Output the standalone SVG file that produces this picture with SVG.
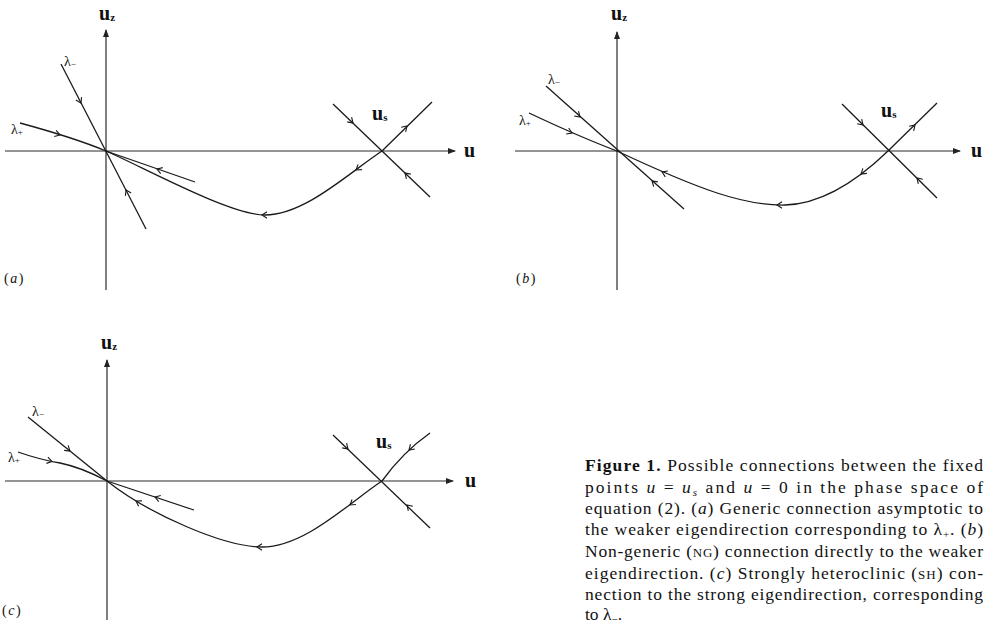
<svg xmlns="http://www.w3.org/2000/svg" xmlns:xlink="http://www.w3.org/1999/xlink" width="986" height="624" viewBox="0 0 986 624">
<style>
.ax{stroke:#2a2a2a;stroke-width:1.2;fill:none}
.tr{stroke:#1a1a1a;stroke-width:1.3;fill:none}
.lb{font-family:"Liberation Serif",serif;font-weight:bold;font-size:20px;fill:#111}
.sb{font-size:11px}
.lam{font-family:"Liberation Serif",serif;font-size:14px;fill:#111}
.ls{font-size:9px}
.pl{font-family:"Liberation Serif",serif;font-size:14px;fill:#111;letter-spacing:1.5px}
.cap{font-family:"Liberation Serif",serif;font-size:17.5px;fill:#111}
.csb{font-size:11px}
.it{font-style:italic}
.sc{font-size:13px}
</style>
<defs>
<marker id="ah" viewBox="0 0 8 6" refX="7" refY="3" markerWidth="8" markerHeight="6" orient="auto" markerUnits="userSpaceOnUse"><path d="M0,0 L8,3 L0,6 z" fill="#222"/></marker>
<path id="ch" d="M-5,-3.2 L0,0 L-5,3.2" fill="none" stroke="#1a1a1a" stroke-width="1.1"/>
</defs>

<g id="panel-a">
<g id="axes-a">
<line class="ax" x1="5" y1="151" x2="455" y2="151" marker-end="url(#ah)"/>
<line class="ax" x1="106" y1="290" x2="106" y2="30" marker-end="url(#ah)"/>
</g>
<g id="connectors-a">
<line class="tr" x1="61" y1="64" x2="146" y2="229"/>
<path class="tr" d="M20,123 Q75,138 106,151"/>
<line class="tr" x1="106" y1="151" x2="195" y2="182"/>
<path class="tr" d="M382,151 C350,172 305,215 265,215 C230,215 145,168 106,151"/>
<line class="tr" x1="333" y1="104" x2="430" y2="197"/>
<line class="tr" x1="432" y1="102" x2="382" y2="151"/>
<use xlink:href="#ch" transform="translate(81,103) rotate(62.6)"/>
<use xlink:href="#ch" transform="translate(126,190) rotate(-117.1)"/>
<use xlink:href="#ch" transform="translate(60,135) rotate(17.4)"/>
<use xlink:href="#ch" transform="translate(157,169) rotate(199.2)"/>
<use xlink:href="#ch" transform="translate(356,170) rotate(143.3)"/>
<use xlink:href="#ch" transform="translate(262,215) rotate(180)"/>
<use xlink:href="#ch" transform="translate(353,123) rotate(43.8)"/>
<use xlink:href="#ch" transform="translate(407,126) rotate(-44.4)"/>
<use xlink:href="#ch" transform="translate(405,173) rotate(-136.2)"/>
</g>
<g id="labels-a">
<text class="lb" x="99" y="20">u<tspan class="sb" dy="1">z</tspan></text>
<text class="lb" x="464" y="157">u</text>
<text class="lb" x="372" y="120">u<tspan class="sb" dy="1">s</tspan></text>
<text class="lam" x="64" y="66">λ<tspan class="ls" dy="1">−</tspan></text>
<text class="lam" x="11" y="134">λ<tspan class="ls" dy="1">+</tspan></text>
<text class="pl" x="4" y="283">(<tspan class="it">a</tspan>)</text>
</g>
</g>

<g id="panel-b">
<g id="axes-b">
<line class="ax" x1="515" y1="151" x2="960" y2="151" marker-end="url(#ah)"/>
<line class="ax" x1="617" y1="290" x2="617" y2="32" marker-end="url(#ah)"/>
</g>
<g id="connectors-b">
<line class="tr" x1="546" y1="86" x2="684" y2="209"/>
<path class="tr" d="M529,113 Q580,137 617,151"/>
<path class="tr" d="M888,151 C860,178 825,204 785,205 C745,206 700,190 617,151"/>
<line class="tr" x1="842" y1="104" x2="937" y2="198"/>
<line class="tr" x1="937" y1="103" x2="888" y2="151"/>
<use xlink:href="#ch" transform="translate(580,117) rotate(42.5)"/>
<use xlink:href="#ch" transform="translate(652,181) rotate(220.9)"/>
<use xlink:href="#ch" transform="translate(572,133) rotate(23.6)"/>
<use xlink:href="#ch" transform="translate(662,172) rotate(203.5)"/>
<use xlink:href="#ch" transform="translate(777,205) rotate(180)"/>
<use xlink:href="#ch" transform="translate(861,174) rotate(141)"/>
<use xlink:href="#ch" transform="translate(863,125) rotate(44.7)"/>
<use xlink:href="#ch" transform="translate(915,125) rotate(-44.4)"/>
<use xlink:href="#ch" transform="translate(917,178) rotate(-135.3)"/>
</g>
<g id="labels-b">
<text class="lb" x="611" y="20">u<tspan class="sb" dy="1">z</tspan></text>
<text class="lb" x="971" y="157">u</text>
<text class="lb" x="881" y="117">u<tspan class="sb" dy="1">s</tspan></text>
<text class="lam" x="548" y="84">λ<tspan class="ls" dy="1">−</tspan></text>
<text class="lam" x="519" y="125">λ<tspan class="ls" dy="1">+</tspan></text>
<text class="pl" x="516" y="283">(<tspan class="it">b</tspan>)</text>
</g>
</g>

<g id="panel-c">
<g id="axes-c">
<line class="ax" x1="5" y1="481" x2="453" y2="481" marker-end="url(#ah)"/>
<line class="ax" x1="107" y1="620" x2="107" y2="360" marker-end="url(#ah)"/>
</g>
<g id="connectors-c">
<line class="tr" x1="28" y1="417" x2="107" y2="481"/>
<path class="tr" d="M18,452 C35,458 48,461 60,463 C75,466 92,473 107,481"/>
<line class="tr" x1="107" y1="481" x2="194" y2="510"/>
<path class="tr" d="M382,481 C350,502 305,547 262,547 C225,547 150,515 107,481"/>
<line class="tr" x1="333" y1="435" x2="430" y2="528"/>
<path class="tr" d="M430,433 Q403,452 382,481"/>
<use xlink:href="#ch" transform="translate(70,451) rotate(39)"/>
<use xlink:href="#ch" transform="translate(52,461.5) rotate(14)"/>
<use xlink:href="#ch" transform="translate(155,497) rotate(198.4)"/>
<use xlink:href="#ch" transform="translate(350,505) rotate(143)"/>
<use xlink:href="#ch" transform="translate(257,547) rotate(180)"/>
<use xlink:href="#ch" transform="translate(136,501) rotate(211)"/>
<use xlink:href="#ch" transform="translate(348,449) rotate(43.5)"/>
<use xlink:href="#ch" transform="translate(409,450) rotate(137)"/>
<use xlink:href="#ch" transform="translate(407,505) rotate(-135.6)"/>
</g>
<g id="labels-c">
<text class="lb" x="101" y="349">u<tspan class="sb" dy="1">z</tspan></text>
<text class="lb" x="465" y="487">u</text>
<text class="lb" x="376" y="448">u<tspan class="sb" dy="1">s</tspan></text>
<text class="lam" x="32" y="416">λ<tspan class="ls" dy="1">−</tspan></text>
<text class="lam" x="8" y="462">λ<tspan class="ls" dy="1">+</tspan></text>
<text class="pl" x="2" y="615">(<tspan class="it">c</tspan>)</text>
</g>
</g>

<g id="caption">
<text class="cap" x="585" y="471" textLength="398" lengthAdjust="spacing"><tspan font-weight="bold">Figure 1.</tspan> Possible connections between the fixed</text>
<text class="cap" x="585" y="493" textLength="398" lengthAdjust="spacing">points <tspan class="it">u</tspan> = <tspan class="it">u</tspan><tspan class="it csb" dy="3">s</tspan><tspan dy="-3"> and </tspan><tspan class="it">u</tspan> = 0 in the phase space of</text>
<text class="cap" x="585" y="514" textLength="398" lengthAdjust="spacing">equation (2). (<tspan class="it">a</tspan>) Generic connection asymptotic to</text>
<text class="cap" x="585" y="535" textLength="398" lengthAdjust="spacing">the weaker eigendirection corresponding to λ<tspan class="csb" dy="3">+</tspan><tspan dy="-3">. (</tspan><tspan class="it">b</tspan>)</text>
<text class="cap" x="585" y="557" textLength="398" lengthAdjust="spacing">Non-generic (<tspan class="sc">NG</tspan>) connection directly to the weaker</text>
<text class="cap" x="585" y="579" textLength="398" lengthAdjust="spacing">eigendirection. (<tspan class="it">c</tspan>) Strongly heteroclinic (<tspan class="sc">SH</tspan>) con-</text>
<text class="cap" x="585" y="600" textLength="398" lengthAdjust="spacing">nection to the strong eigendirection, corresponding</text>
<text class="cap" x="585" y="620">to λ<tspan class="csb" dy="3">−</tspan><tspan dy="-3">.</tspan></text>
</g>
</svg>
